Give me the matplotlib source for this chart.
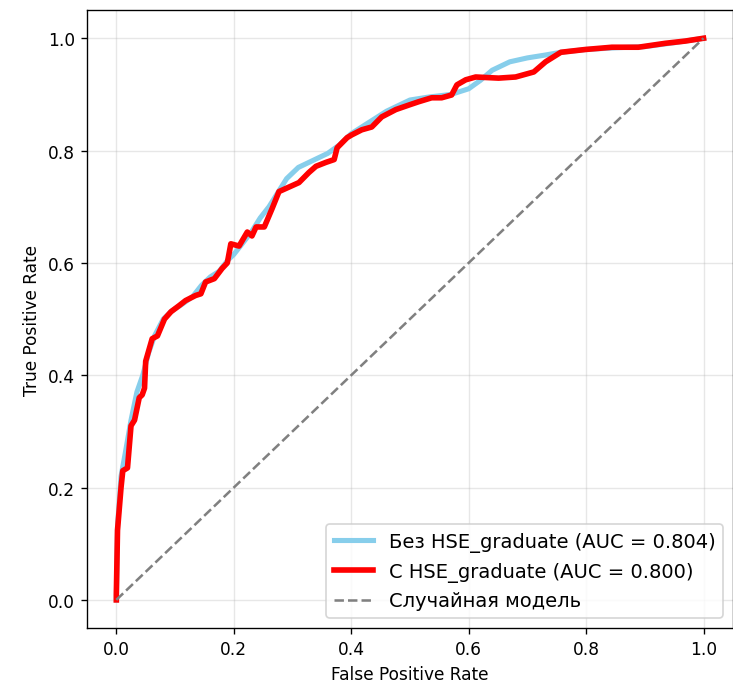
import matplotlib
matplotlib.use("Agg")
import matplotlib.pyplot as plt

# ROC без признака HSE_graduate
fpr_base = [0.0, 0.002, 0.008, 0.015, 0.025, 0.035, 0.045, 0.055, 0.065, 0.08,
            0.095, 0.11, 0.13, 0.145, 0.16, 0.175, 0.19, 0.2, 0.215, 0.23,
            0.245, 0.26, 0.275, 0.29, 0.31, 0.33, 0.36, 0.38, 0.4, 0.43,
            0.46, 0.5, 0.53, 0.57, 0.6, 0.62, 0.64, 0.67, 0.7, 0.73,
            0.757, 0.8, 0.85, 0.9, 0.95, 1.0]
tpr_base = [0.0, 0.13, 0.22, 0.26, 0.32, 0.37, 0.40, 0.44, 0.47, 0.50,
            0.515, 0.525, 0.54, 0.56, 0.575, 0.585, 0.605, 0.615, 0.635, 0.655,
            0.68, 0.70, 0.725, 0.75, 0.77, 0.78, 0.795, 0.81, 0.83, 0.85,
            0.87, 0.89, 0.895, 0.90, 0.91, 0.925, 0.943, 0.958, 0.965, 0.97,
            0.975, 0.98, 0.983, 0.985, 0.992, 1.0]

# ROC с признаком HSE_graduate
fpr_hse = [0.0, 0.0, 0.002, 0.008, 0.011, 0.019, 0.025, 0.031, 0.039, 0.044,
           0.048, 0.05, 0.061, 0.07, 0.082, 0.093, 0.107, 0.118, 0.135, 0.144,
           0.152, 0.167, 0.18, 0.189, 0.195, 0.209, 0.223, 0.231, 0.238, 0.252,
           0.265, 0.277, 0.294, 0.311, 0.328, 0.34, 0.357, 0.371, 0.376, 0.393,
           0.401, 0.418, 0.435, 0.452, 0.476, 0.498, 0.515, 0.537, 0.554, 0.571,
           0.58, 0.595, 0.612, 0.651, 0.68, 0.711, 0.731, 0.757, 0.799, 0.844,
           0.889, 0.935, 0.969, 1.0]
tpr_hse = [0.0, 0.01, 0.124, 0.20, 0.23, 0.235, 0.31, 0.32, 0.36, 0.365,
           0.377, 0.425, 0.465, 0.47, 0.50, 0.513, 0.524, 0.533, 0.542, 0.545,
           0.566, 0.572, 0.59, 0.60, 0.634, 0.63, 0.655, 0.648, 0.664, 0.664,
           0.696, 0.727, 0.735, 0.743, 0.761, 0.772, 0.779, 0.784, 0.805, 0.823,
           0.828, 0.837, 0.842, 0.86, 0.873, 0.881, 0.887, 0.894, 0.894, 0.899,
           0.917, 0.926, 0.931, 0.929, 0.931, 0.94, 0.958, 0.975, 0.98, 0.984,
           0.984, 0.991, 0.995, 1.0]

auc_base = 0.804
auc_hse = 0.800

fig = plt.figure(figsize=(6.0, 5.624), dpi=122.33)
ax = fig.add_axes([0.1185, 0.0858, 0.88, 0.898])

ax.plot(fpr_base, tpr_base, color="skyblue", lw=3,
        label=f"Без HSE_graduate (AUC = {auc_base:.3f})")
ax.plot(fpr_hse, tpr_hse, color="red", lw=3.3,
        label=f"С HSE_graduate (AUC = {auc_hse:.3f})")
ax.plot([0, 1], [0, 1], color="gray", ls="--", lw=1.5, label="Случайная модель")

ax.set_xlim(-0.05, 1.05)
ax.set_ylim(-0.05, 1.05)
ax.set_xlabel("False Positive Rate")
ax.set_ylabel("True Positive Rate")
ax.grid(True, alpha=0.3)
ax.legend(loc="lower right", fontsize=11.5)

# заголовок почти целиком обрезан сверху, как в исходнике
fig.text(0.585, 1.0 + 4.5 / 688, "ROC-кривые: сравнение моделей", ha="center",
         va="baseline", fontsize=12, fontweight="bold")

fig.savefig("out.png", dpi=122.33)
